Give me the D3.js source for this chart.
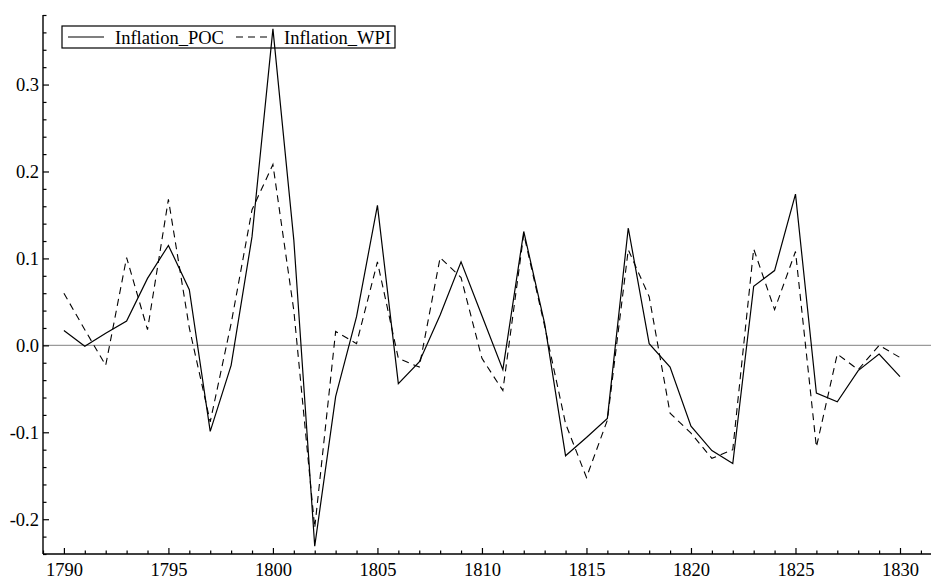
<!DOCTYPE html>
<html>
<head>
<meta charset="utf-8">
<script src="https://cdn.jsdelivr.net/npm/d3@7"></script>
<style>
  html, body { margin: 0; padding: 0; background: #fff; }
  svg { display: block; }
</style>
</head>
<body>
<svg id="chart" width="931" height="579"></svg>
<script>
const years = d3.range(1790, 1831);
const inflationPOC = [
  0.017, -0.001, 0.014, 0.028, 0.077, 0.115, 0.064, -0.099, -0.023, 0.125,
  0.364, 0.121, -0.231, -0.059, 0.033, 0.161, -0.044, -0.019, 0.035, 0.096,
  0.034, -0.028, 0.131, 0.025, -0.127, -0.106, -0.084, 0.135, 0.002, -0.025,
  -0.093, -0.121, -0.136, 0.068, 0.086, 0.174, -0.055, -0.065, -0.029, -0.010,
  -0.036
];
const inflationWPI = [
  0.060, 0.018, -0.023, 0.101, 0.018, 0.168, 0.020, -0.088, 0.025, 0.156,
  0.208, 0.040, -0.210, 0.016, 0.002, 0.096, -0.015, -0.025, 0.101, 0.078,
  -0.015, -0.052, 0.128, 0.022, -0.090, -0.152, -0.086, 0.110, 0.056, -0.078,
  -0.101, -0.130, -0.120, 0.111, 0.041, 0.108, -0.117, -0.010, -0.028, 0.000,
  -0.014
];
const seriesNames = ["Inflation_POC", "Inflation_WPI"];
const xMajorTicks = [1790, 1795, 1800, 1805, 1810, 1815, 1820, 1825, 1830];
const yMajorTicks = [-0.2, -0.1, 0.0, 0.1, 0.2, 0.3];

const FONT = '"Liberation Serif", "Times New Roman", serif';
const FS = 18.5;
const svg = d3.select("#chart");
const x = d3.scaleLinear().domain([1789, 1830]).range([43, 900]);
const y = d3.scaleLinear().domain([-0.24, 0.38]).range([554, 15]);
const X0 = x(1789), XR = 931, Y0 = y(-0.24), YT = y(0.38);

// zero line
svg.append("line")
  .attr("x1", X0).attr("x2", XR)
  .attr("y1", y(0)).attr("y2", y(0))
  .attr("stroke", "#9a9a9a").attr("stroke-width", 1.2);

// minor ticks
const xMinor = d3.range(1789, 1832).filter(v => v % 5 !== 0);
const yMinor = d3.range(-24, 39, 2).map(v => v / 100).filter(v => Math.abs(Math.round(v * 100) % 10) !== 0);

const gx = svg.append("g").attr("transform", `translate(0,${Y0})`);
gx.call(d3.axisBottom(x).tickValues(xMinor).tickSize(-3.5).tickFormat(""));
gx.select(".domain").remove();
const gx2 = svg.append("g").attr("transform", `translate(0,${Y0})`);
gx2.call(d3.axisBottom(x).tickValues(xMajorTicks).tickSize(-6).tickPadding(9).tickFormat(d3.format("d")));
gx2.select(".domain").remove();
gx2.selectAll("text").attr("font-size", FS).style("font-family", FONT).attr("fill", "#000");

const gy = svg.append("g").attr("transform", `translate(${X0},0)`);
gy.call(d3.axisLeft(y).tickValues(yMinor).tickSize(-3.5).tickFormat(""));
gy.select(".domain").remove();
const gy2 = svg.append("g").attr("transform", `translate(${X0},0)`);
gy2.call(d3.axisLeft(y).tickValues(yMajorTicks).tickSize(-6).tickPadding(4)
  .tickFormat(v => d3.format(".1f")(v).replace("\u2212", "-")));
gy2.select(".domain").remove();
gy2.selectAll("text").attr("font-size", FS).style("font-family", FONT).attr("fill", "#000");
svg.selectAll(".tick line").attr("stroke", "#000").attr("stroke-width", 1.2);

// axis lines
svg.append("line").attr("x1", X0).attr("x2", X0).attr("y1", YT).attr("y2", Y0)
  .attr("stroke", "#000").attr("stroke-width", 1.4);
svg.append("line").attr("x1", X0).attr("x2", XR).attr("y1", Y0).attr("y2", Y0)
  .attr("stroke", "#000").attr("stroke-width", 1.4);

// series
const line = d3.line().x(d => x(d[0])).y(d => y(d[1]));
svg.append("path")
  .datum(years.map((yr, i) => [yr, inflationWPI[i]]))
  .attr("d", line).attr("fill", "none").attr("stroke", "#000")
  .attr("stroke-width", 1.1).attr("stroke-dasharray", "7,5");
svg.append("path")
  .datum(years.map((yr, i) => [yr, inflationPOC[i]]))
  .attr("d", line).attr("fill", "none").attr("stroke", "#000")
  .attr("stroke-width", 1.2);

// legend
const lg = svg.append("g");
lg.append("rect").attr("x", 62).attr("y", 26).attr("width", 333).attr("height", 22)
  .attr("fill", "none").attr("stroke", "#000").attr("stroke-width", 1.2);
lg.append("line").attr("x1", 68).attr("x2", 104).attr("y1", 37).attr("y2", 37)
  .attr("stroke", "#000").attr("stroke-width", 1.2);
lg.append("text").attr("x", 115).attr("y", 43.5).attr("font-size", FS)
  .style("font-family", FONT).text(seriesNames[0]);
lg.append("line").attr("x1", 236).attr("x2", 272).attr("y1", 37).attr("y2", 37)
  .attr("stroke", "#000").attr("stroke-width", 1.1).attr("stroke-dasharray", "7,5");
lg.append("text").attr("x", 284).attr("y", 43.5).attr("font-size", FS)
  .style("font-family", FONT).text(seriesNames[1]);
</script>
</body>
</html>
